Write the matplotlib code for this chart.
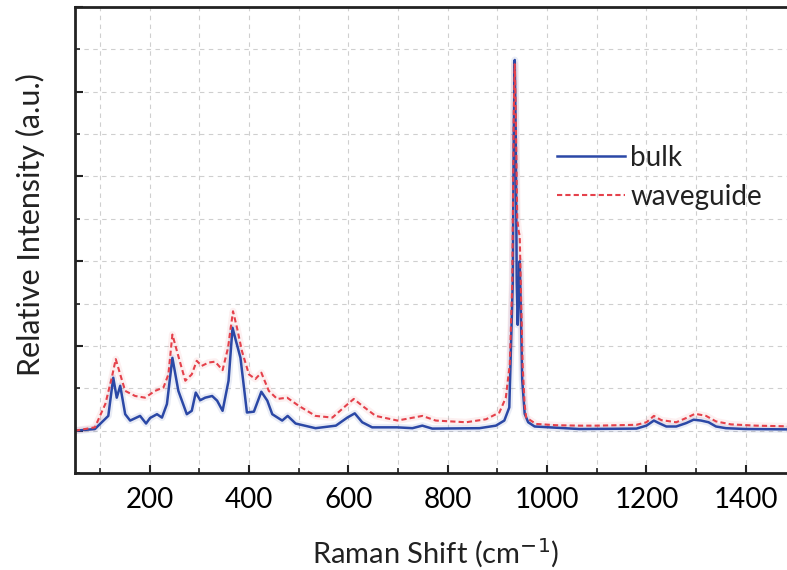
import matplotlib
matplotlib.use("Agg")
import matplotlib.pyplot as plt
from matplotlib.ticker import MultipleLocator, NullFormatter

# Raman shift (cm^-1) and relative intensity
bulk_x = [50, 90, 117, 127, 134, 141, 151, 161, 181, 193, 201, 215, 225, 235,
          246, 258, 275, 285, 293, 302, 312, 326, 336, 347, 359, 367, 373, 383,
          396, 410, 425, 437, 447, 467, 478, 494, 534, 575, 598, 613, 628, 648,
          698, 729, 749, 769, 864, 897, 914, 924, 931, 933, 935, 937, 939, 941,
          943, 945, 947, 950, 955, 962, 975, 1065, 1180, 1200, 1215, 1225, 1240,
          1260, 1280, 1295, 1310, 1325, 1340, 1360, 1400, 1500]
bulk_y = [0.0, 0.004, 0.035, 0.125, 0.078, 0.106, 0.039, 0.024, 0.035, 0.017,
          0.030, 0.039, 0.031, 0.063, 0.172, 0.094, 0.039, 0.047, 0.090, 0.072,
          0.078, 0.082, 0.071, 0.047, 0.118, 0.243, 0.216, 0.172, 0.043, 0.045,
          0.092, 0.071, 0.039, 0.024, 0.035, 0.017, 0.006, 0.012, 0.031, 0.041,
          0.020, 0.008, 0.008, 0.006, 0.012, 0.005, 0.006, 0.012, 0.024, 0.055,
          0.35, 0.70, 0.875, 0.70, 0.35, 0.25, 0.33, 0.40, 0.30, 0.12, 0.04,
          0.02, 0.01, 0.004, 0.005, 0.012, 0.024, 0.018, 0.010, 0.010, 0.018,
          0.026, 0.024, 0.020, 0.010, 0.006, 0.004, 0.003]

wg_x = [50, 90, 111, 124, 132, 141, 151, 171, 191, 211, 228, 238, 246, 257, 272,
        285, 295, 305, 319, 332, 347, 358, 368, 376, 386, 400, 413, 425, 440,
        457, 477, 500, 534, 568, 595, 611, 628, 655, 699, 749, 776, 837, 877,
        904, 917, 925, 930, 933, 935, 937, 940, 943, 945, 948, 951, 955, 958,
        978, 1018, 1065, 1100, 1180, 1200, 1215, 1230, 1260, 1280, 1298, 1320,
        1340, 1370, 1420, 1500]
wg_y = [0.0, 0.008, 0.063, 0.125, 0.169, 0.133, 0.094, 0.082, 0.078, 0.094,
        0.102, 0.133, 0.227, 0.180, 0.118, 0.133, 0.165, 0.153, 0.161, 0.163,
        0.143, 0.196, 0.282, 0.243, 0.188, 0.133, 0.122, 0.137, 0.094, 0.075,
        0.078, 0.059, 0.035, 0.031, 0.059, 0.075, 0.059, 0.035, 0.024, 0.035,
        0.024, 0.020, 0.027, 0.043, 0.078, 0.157, 0.35, 0.75, 0.865, 0.75, 0.50,
        0.47, 0.46, 0.30, 0.15, 0.06, 0.031, 0.016, 0.013, 0.012, 0.012, 0.014,
        0.020, 0.035, 0.025, 0.020, 0.030, 0.040, 0.035, 0.022, 0.015, 0.012,
        0.010]

series_labels = ["bulk", "waveguide"]
x_ticks = [200, 400, 600, 800, 1000, 1200, 1400]

plt.rcParams['font.family'] = ['Lato', 'DejaVu Sans']

fig = plt.figure(figsize=(7.87, 5.70), dpi=100)
ax = fig.add_axes([0.0953, 0.170, 0.9155, 0.8177])

blue = '#2b48a6'
red = '#e5414b'

# faint halo under the lines
ax.plot(bulk_x, bulk_y, color=blue, lw=5, alpha=0.10, solid_capstyle='round')
ax.plot(wg_x, wg_y, color=red, lw=5, alpha=0.08, solid_capstyle='round')

ax.plot(bulk_x, bulk_y, color=blue, lw=1.8, label=series_labels[0])
ax.plot(wg_x, wg_y, color=red, lw=1.5, ls=(0, (2.5, 1.5)), label=series_labels[1])

ax.set_xlim(50, 1500)
ax.set_ylim(-0.1, 1.0)

ax.set_xticks(x_ticks)
ax.set_xticklabels([str(t) for t in x_ticks])
ax.xaxis.set_minor_locator(MultipleLocator(100))
ax.yaxis.set_major_locator(MultipleLocator(0.2))
ax.yaxis.set_minor_locator(MultipleLocator(0.1))
ax.yaxis.set_major_formatter(NullFormatter())

ax.tick_params(axis='both', which='major', direction='in', length=6, width=1.5,
               color='#222222', labelsize=20, pad=10)
ax.tick_params(axis='both', which='minor', direction='in', length=3.5, width=1.2,
               color='#222222')
ax.tick_params(axis='y', which='both', labelleft=False)

ax.grid(True, which='both', ls=(0, (4, 4)), color='#cfcfcf', lw=0.8)
ax.set_axisbelow(True)

for s in ax.spines.values():
    s.set_linewidth(2.0)
    s.set_color('#222222')

ax.set_xlabel('Raman Shift (cm$^{-1}$)', fontsize=21, labelpad=17, color='#222222')
ax.set_ylabel('Relative Intensity (a.u.)', fontsize=22, color='#222222')
ax.yaxis.set_label_coords(-0.042, 0.534)

leg = ax.legend(loc='upper left', bbox_to_anchor=(0.634, 0.758), frameon=False,
                fontsize=20, handlelength=2.45, handletextpad=0.2,
                labelspacing=0.47)
for t in leg.get_texts():
    t.set_color('#222222')

fig.savefig('out.png', dpi=100)
